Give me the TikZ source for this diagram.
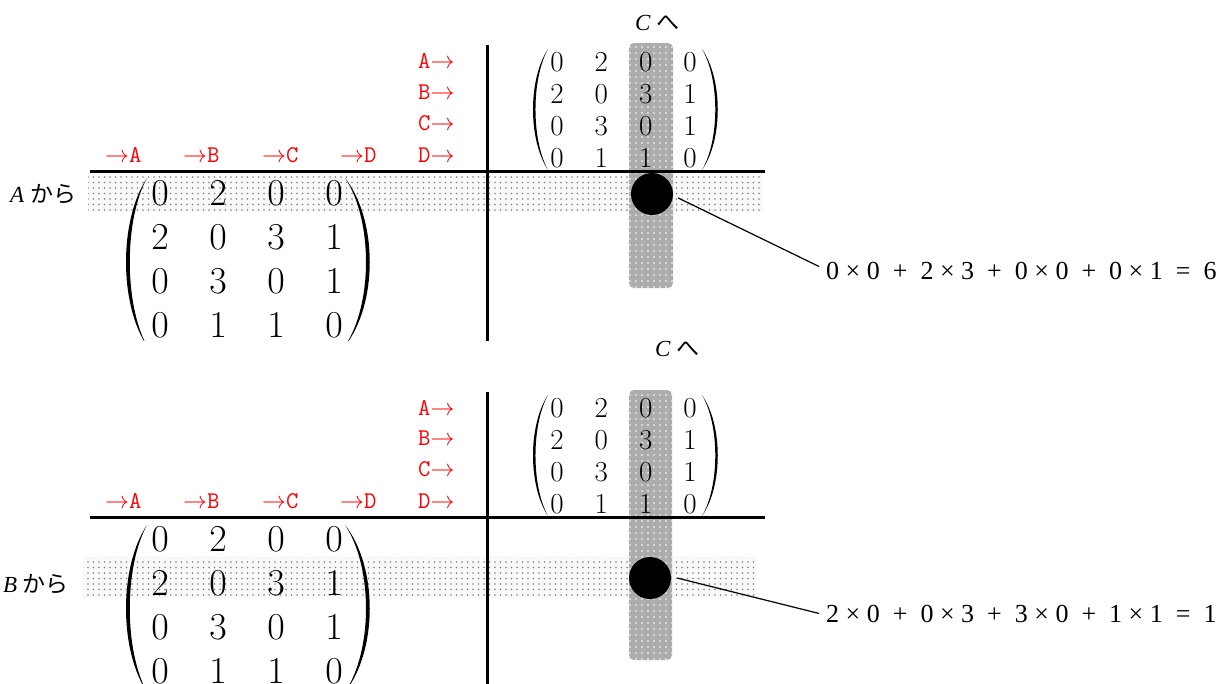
\RequirePackage{fix-cm}
\documentclass[tikz,border=0pt]{standalone}
\usepackage{amsmath}
\usepackage{fontspec}
\setmainfont{Liberation Serif}
\newfontfamily\jpfont{Noto Sans CJK JP}
\usepackage{tikz}
\usetikzlibrary{matrix, patterns.meta}
\newcommand{\opsp}[1]{\hspace{13pt}#1\hspace{13pt}}
\newcommand{\tms}{\hspace{6.5pt}×\hspace{6.5pt}}
% x, top, bottom, bulge, stroke
\newcommand{\openparen}[5]{%
  \fill (#1,#2) .. controls ({#1-#4},{#2+(#3-#2)/4}) and ({#1-#4},{#3-(#3-#2)/4}) .. (#1,#3)
    .. controls ({#1-#4+#5},{#3-(#3-#2)/4}) and ({#1-#4+#5},{#2+(#3-#2)/4}) .. (#1,#2) -- cycle;}
\newcommand{\closeparen}[5]{%
  \fill (#1,#2) .. controls ({#1+#4},{#2+(#3-#2)/4}) and ({#1+#4},{#3-(#3-#2)/4}) .. (#1,#3)
    .. controls ({#1+#4-#5},{#3-(#3-#2)/4}) and ({#1+#4-#5},{#2+(#3-#2)/4}) .. (#1,#2) -- cycle;}
\tikzset{
  axisline/.style={line width=3pt},
  rowband/.style={fill=gray!5, postaction={pattern={Dots[distance=5.5pt, radius=0.8pt]}, pattern color=gray}},
  colband/.style={fill=gray!65, rounded corners=5pt, postaction={pattern={Dots[distance=6pt, radius=0.9pt]}, pattern color=white}},
  bigmat/.style={matrix of math nodes, inner sep=0pt,
    nodes={font=\fontsize{38}{44}\selectfont, inner sep=2pt},
    row sep={44pt,between origins}, column sep={58pt,between origins}},
  smallmat/.style={matrix of math nodes, inner sep=0pt,
    nodes={font=\fontsize{29}{32}\selectfont, inner sep=2pt},
    row sep={32pt,between origins}, column sep={44.3pt,between origins}},
  tag/.style={text=red, font=\fontsize{24}{24}\selectfont\ttfamily, inner sep=0pt, anchor=base west},
  lbl/.style={font=\fontsize{23}{23}\selectfont, inner sep=0pt, anchor=base west},
  res/.style={font=\fontsize{26}{26}\selectfont, inner sep=2pt, anchor=base west},
  spot/.style={circle, fill=black, minimum size=42pt, inner sep=0pt},
  leader/.style={line width=1.2pt},
}
\begin{document}
\begin{tikzpicture}[x=1pt, y=-1pt]
  \useasboundingbox (0,0) rectangle (1222,683);

  % row A times column C
  \begin{scope}
    \clip (0,0) rectangle (1222,340);
    \path[rowband] (88,173) rectangle (763,212);
    \path[colband] (629,43) rectangle (673,288);
    \draw[axisline] (90,171) -- (765,171);
    \draw[axisline] (487,45) -- (487,345);
    \matrix (bigA) [bigmat] at (247,259) {
      0 & 2 & 0 & 0 \\
      2 & 0 & 3 & 1 \\
      0 & 3 & 0 & 1 \\
      0 & 1 & 1 & 0 \\
    };
    \openparen{147}{178}{346}{28}{5}
    \closeparen{345}{178}{346}{33}{5}
    \matrix (smallA) [smallmat] at (623.5,110) {
      0 & 2 & 0 & 0 \\
      2 & 0 & 3 & 1 \\
      0 & 3 & 0 & 1 \\
      0 & 1 & 1 & 0 \\
    };
    \openparen{548}{49}{170}{20}{3.3}
    \closeparen{702}{49}{170}{21}{3.3}
    \node[tag] (toAa) at (105,162) {$\rightarrow$A};
    \node[tag] (toAb) at (183,162) {$\rightarrow$B};
    \node[tag] (toAc) at (262,162) {$\rightarrow$C};
    \node[tag] (toAd) at (340,162) {$\rightarrow$D};
    \node[tag] (fromAa) at (418,68) {A$\rightarrow$};
    \node[tag] (fromAb) at (418,99) {B$\rightarrow$};
    \node[tag] (fromAc) at (418,130) {C$\rightarrow$};
    \node[tag] (fromAd) at (418,162) {D$\rightarrow$};
    \node[lbl] (rowA) at (10,202) {\textit{A} {\jpfont から}};
    \node[lbl] (colA) at (635,30) {\textit{C} {\jpfont へ}};
    \node[spot] (dotA) at (652,194) {};
  \end{scope}
  \node[res] (resA) at (824,279) {0\tms 0\opsp{+}2\tms 3\opsp{+}0\tms 0\opsp{+}0\tms 1\opsp{=}6};
  \draw[leader] ([xshift=5pt,yshift=-4pt]dotA.east) -- ([xshift=-5pt,yshift=4pt]resA.west);

  % row B times column C
  \begin{scope}
    \clip (0,337) rectangle (1222,683);
    \path[rowband] (83,557) rectangle (756,598);
    \path[colband] (629,390) rectangle (672,660);
    \draw[axisline] (90,517) -- (765,517);
    \draw[axisline] (487,392) -- (487,690);
    \matrix (bigB) [bigmat] at (247,605) {
      0 & 2 & 0 & 0 \\
      2 & 0 & 3 & 1 \\
      0 & 3 & 0 & 1 \\
      0 & 1 & 1 & 0 \\
    };
    \openparen{147}{525}{692}{28}{5}
    \closeparen{345}{525}{692}{33}{5}
    \matrix (smallB) [smallmat] at (623.5,456) {
      0 & 2 & 0 & 0 \\
      2 & 0 & 3 & 1 \\
      0 & 3 & 0 & 1 \\
      0 & 1 & 1 & 0 \\
    };
    \openparen{548}{395}{516}{20}{3.3}
    \closeparen{702}{395}{516}{21}{3.3}
    \node[tag] (toBa) at (105,508) {$\rightarrow$A};
    \node[tag] (toBb) at (183,508) {$\rightarrow$B};
    \node[tag] (toBc) at (262,508) {$\rightarrow$C};
    \node[tag] (toBd) at (340,508) {$\rightarrow$D};
    \node[tag] (fromBa) at (418,415) {A$\rightarrow$};
    \node[tag] (fromBb) at (418,445) {B$\rightarrow$};
    \node[tag] (fromBc) at (418,476) {C$\rightarrow$};
    \node[tag] (fromBd) at (418,508) {D$\rightarrow$};
    \node[lbl] (rowB) at (3,592) {\textit{B} {\jpfont から}};
    \node[lbl] (colB) at (655,356) {\textit{C} {\jpfont へ}};
    \node[spot] (dotB) at (650,578) {};
  \end{scope}
  \node[res] (resB) at (824,622) {2\tms 0\opsp{+}0\tms 3\opsp{+}3\tms 0\opsp{+}1\tms 1\opsp{=}1};
  \draw[leader] ([xshift=6pt]dotB.east) -- ([xshift=-5pt]resB.west);
\end{tikzpicture}
\end{document}
